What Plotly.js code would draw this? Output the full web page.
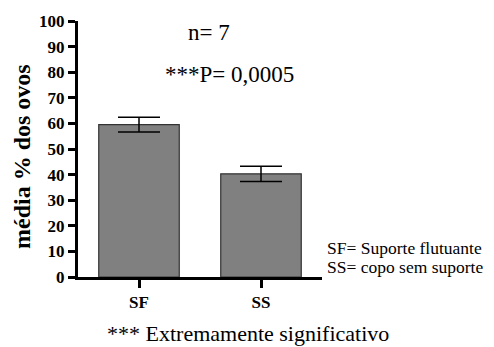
<!DOCTYPE html>
<html>
<head>
<meta charset="utf-8">
<script src="https://cdn.plot.ly/plotly-3.0.1.min.js"></script>
<style>html,body{margin:0;padding:0;background:#fff;}#chart{width:494px;height:347px;}</style>
</head>
<body>
<div id="chart"></div>
<script>
var categories = ["SF", "SS"];
var means = [59.5, 40.3];
var errors = [2.9, 3.0];
var yTicks = [0, 10, 20, 30, 40, 50, 60, 70, 80, 90, 100];

var SERIF = "'Liberation Serif', 'Times New Roman', 'DejaVu Serif', serif";

var trace = {
  type: "bar",
  x: categories,
  y: means,
  width: 0.66,
  marker: {color: "#808080", line: {color: "#333333", width: 1.2}},
  error_y: {type: "data", array: errors, visible: true, color: "#000000", thickness: 1.5, width: 21}
};

function f(size, bold) {
  var o = {size: size, family: SERIF, color: "#000000"};
  if (bold) o.weight = "bold";
  return o;
}

var L = 78, T = 21, W = 244, H = 256;
function px(x) { return (x - L) / W; }
function py(y) { return (T + H - y) / H; }

var layout = {
  width: 494, height: 347,
  margin: {l: L, r: 494 - L - W, t: T, b: 347 - T - H},
  paper_bgcolor: "#ffffff", plot_bgcolor: "#ffffff",
  showlegend: false,
  font: f(15, false),
  xaxis: {
    range: [-0.5, 1.5], showline: true, linewidth: 3, linecolor: "#000000",
    ticks: "outside", ticklen: 8, tickwidth: 3, tickcolor: "#000000",
    tickfont: f(17, true),
    showgrid: false, zeroline: false, fixedrange: true
  },
  yaxis: {
    range: [0, 100], tickvals: yTicks, showline: true, linewidth: 3, linecolor: "#000000",
    ticks: "outside", ticklen: 7, tickwidth: 3, tickcolor: "#000000",
    tickfont: f(17, true),
    showgrid: false, zeroline: false
  },
  annotations: [
    {xref: "paper", yref: "paper", x: px(22), y: py(157), text: "média % dos ovos", textangle: -90, showarrow: false, xanchor: "center", yanchor: "middle", font: f(24, true)},
    {xref: "paper", yref: "paper", x: px(209), y: py(32), text: "n= 7", showarrow: false, xanchor: "center", yanchor: "middle", font: f(23)},
    {xref: "paper", yref: "paper", x: px(229), y: py(74), text: "***P= 0,0005", showarrow: false, xanchor: "center", yanchor: "middle", font: f(23)},
    {xref: "paper", yref: "paper", x: px(325), y: py(248), text: "SF= Suporte flutuante", showarrow: false, xanchor: "left", yanchor: "middle", font: f(17.5)},
    {xref: "paper", yref: "paper", x: px(325), y: py(267), text: "SS= copo sem suporte", showarrow: false, xanchor: "left", yanchor: "middle", font: f(17.5)},
    {xref: "paper", yref: "paper", x: px(248), y: py(333), text: "*** Extremamente significativo", showarrow: false, xanchor: "center", yanchor: "middle", font: f(22)}
  ]
};

Plotly.newPlot("chart", [trace], layout, {displayModeBar: false, staticPlot: true});
</script>
</body>
</html>
